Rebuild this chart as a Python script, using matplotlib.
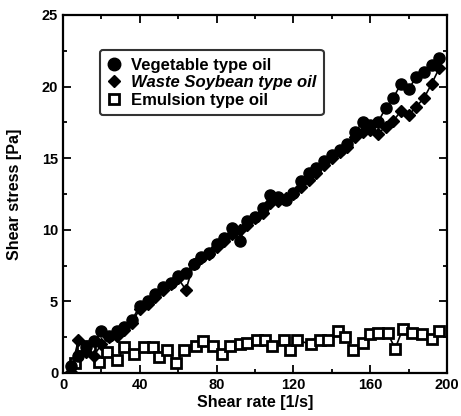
import numpy as np
import matplotlib.pyplot as plt
from matplotlib.lines import Line2D
from matplotlib.ticker import MultipleLocator

plt.rcParams['font.family'] = ['Liberation Sans', 'DejaVu Sans']
plt.rcParams['font.weight'] = 'bold'

# shear rate for the two linear series
rate = np.arange(4, 200, 4)
vegetable = [0.5, 1.2, 1.8, 2.2, 2.9, 2.6, 2.9, 3.2, 3.7, 4.7, 5.0, 5.5, 6.0, 6.3, 6.8,
             7.0, 7.6, 8.1, 8.4, 9.0, 9.4, 10.1, 9.2, 10.6, 10.9, 11.5, 12.4, 12.3, 12.1,
             12.6, 13.4, 14.0, 14.3, 14.8, 15.2, 15.6, 16.0, 16.8, 17.5, 17.3, 17.5, 18.5,
             19.2, 20.2, 19.8, 20.7, 21.0, 21.5, 22.0]
waste = [0.1, 2.3, 1.5, 1.2, 2.0, 2.5, 2.6, 3.0, 3.5, 4.5, 4.8, 5.3, 5.8, 6.2, 6.6,
         5.8, 7.6, 8.0, 8.3, 8.8, 9.2, 9.7, 10.0, 10.3, 10.8, 11.2, 11.9, 12.0, 12.2,
         12.5, 13.0, 13.5, 14.0, 14.5, 15.0, 15.4, 15.8, 16.5, 16.8, 17.0, 16.7, 17.2,
         17.6, 18.3, 18.0, 18.6, 19.2, 20.2, 21.3]

emul_rate = [6, 10, 14, 19, 23, 28, 32, 37, 42, 47, 50, 54, 59, 63, 69, 73, 78, 83, 87,
             92, 96, 101, 105, 109, 115, 118, 122, 129, 134, 138, 143, 147, 151, 156,
             160, 164, 169, 173, 177, 182, 187, 192, 196]
emulsion = [0.7, 1.9, 1.7, 0.8, 1.5, 0.9, 1.8, 1.3, 1.8, 1.8, 1.1, 1.6, 0.7, 1.6, 1.9,
            2.2, 1.9, 1.3, 1.9, 2.0, 2.1, 2.3, 2.3, 1.9, 2.3, 1.6, 2.3, 2.0, 2.3, 2.3,
            2.9, 2.5, 1.6, 2.1, 2.7, 2.8, 2.8, 1.7, 3.1, 2.8, 2.7, 2.4, 2.9]

labels = ['Vegetable type oil', 'Waste Soybean type oil', 'Emulsion type oil']

fig = plt.figure(figsize=(4.61, 4.16), dpi=100)
ax = fig.add_axes([0.1367, 0.1034, 0.833, 0.8606])

ax.plot(emul_rate, emulsion, color='black', lw=1.2, marker='s', ms=7,
        mfc='white', mec='black', mew=2)
ax.plot(rate, waste, color='black', lw=1.2, marker='D', ms=6.5, mfc='black', mec='black')
ax.plot(rate, vegetable, color='black', lw=1.2, marker='o', ms=8, mfc='black', mec='black')

ax.set_xlim(0, 200)
ax.set_ylim(0, 25)
ax.xaxis.set_major_locator(MultipleLocator(40))
ax.xaxis.set_minor_locator(MultipleLocator(20))
ax.yaxis.set_major_locator(MultipleLocator(5))
ax.yaxis.set_minor_locator(MultipleLocator(2.5))
ax.tick_params(which='both', direction='in', top=True, right=True, width=1.3,
               labelsize=10.5)
ax.tick_params(which='major', length=6)
ax.tick_params(which='minor', length=3)
for s in ax.spines.values():
    s.set_linewidth(1.6)

ax.set_xlabel('Shear rate [1/s]', fontsize=11.5, fontweight='bold', labelpad=2)
ax.set_ylabel('Shear stress [Pa]', fontsize=11.5, fontweight='bold', labelpad=14)

handles = [
    Line2D([], [], ls='none', marker='o', ms=9, mfc='black', mec='black'),
    Line2D([], [], ls='none', marker='D', ms=6.5, mfc='black', mec='black'),
    Line2D([], [], ls='none', marker='s', ms=7, mfc='white', mec='black', mew=2),
]
leg = ax.legend(handles, labels, loc='upper left', bbox_to_anchor=(0.096, 0.902),
                borderaxespad=0, fancybox=True, frameon=True, handlelength=0.8,
                handletextpad=0.6, labelspacing=0.15, borderpad=0.45,
                prop={'size': 12, 'weight': 'bold'})
leg.get_frame().set_edgecolor('black')
leg.get_frame().set_linewidth(1.5)
leg.get_texts()[1].set_style('italic')

fig.savefig('out.png', dpi=100)
